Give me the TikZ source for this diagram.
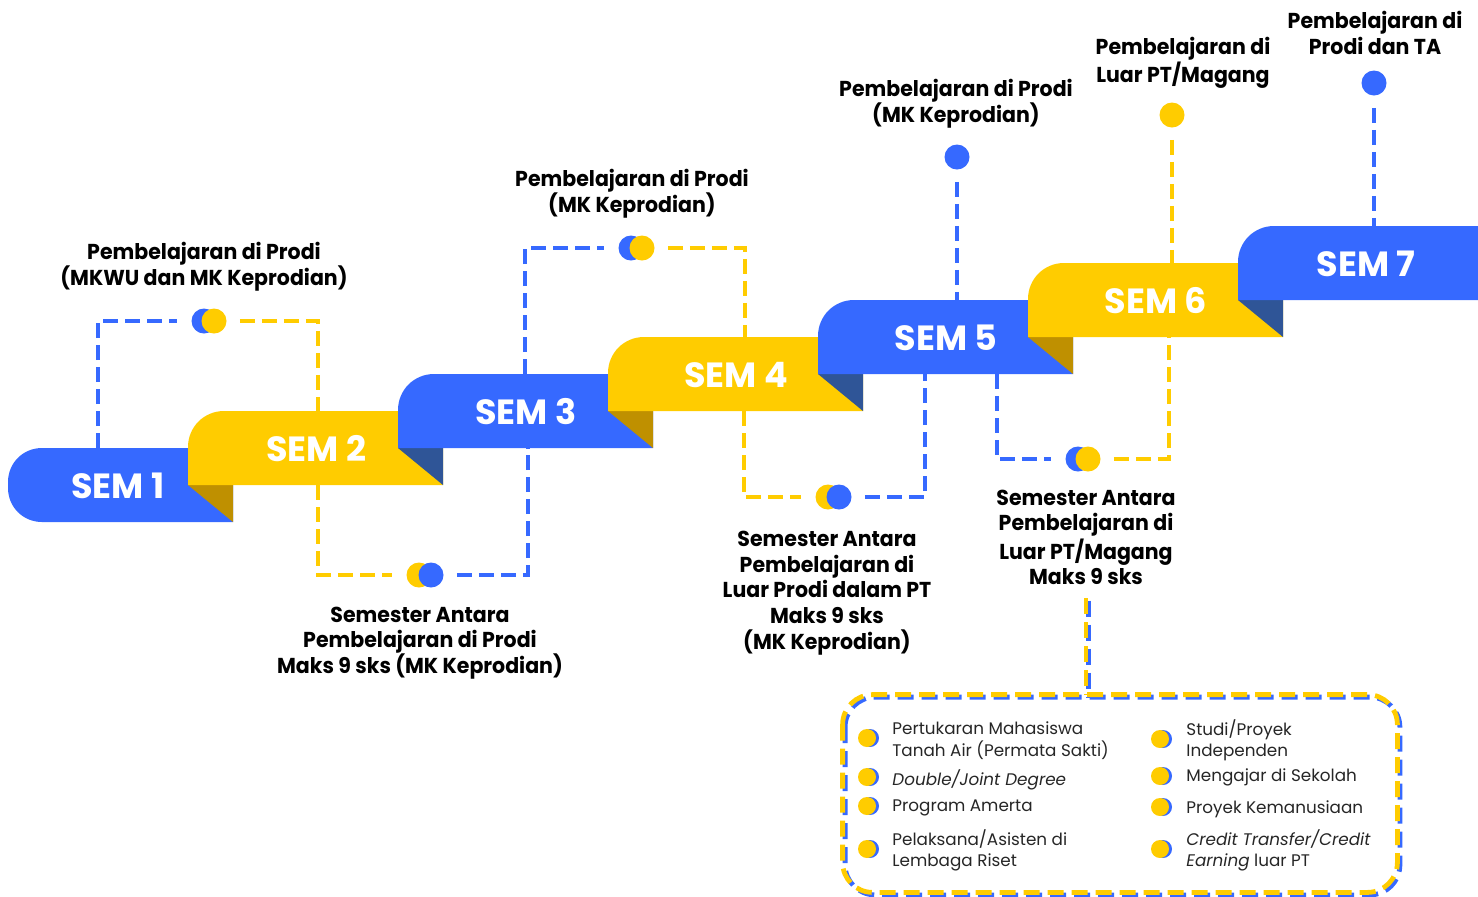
\documentclass[tikz,border=0pt]{standalone}
\usepackage{fontspec}
\setmainfont{Poppins}
\newfontfamily\lblfont[FakeStretch=0.95]{Poppins}
\newfontfamily\boxfont{Poppins}
\definecolor{sblue}{HTML}{3669FF}
\definecolor{syel}{HTML}{FFCC00}
\definecolor{dgold}{HTML}{BF9000}
\definecolor{dblue}{HTML}{2F5597}
\definecolor{txtgray}{HTML}{262626}
\newcommand{\semband}[5]{\fill[#5] (#1,#4) -- (#1,{#2+36}) .. controls (#1,{#2+16}) and ({#1+16},#2) .. ({#1+36},#2) -- (#3,#2) -- (#3,#4) -- cycle;}
\newcommand{\semfold}[4]{\fill[#4] (#1,#2) -- (#3,#2) -- (#3,{#2+37}) -- cycle;}
\tikzset{
  bline/.style={draw=sblue, line width=2.25pt, dash pattern=on 7.5pt off 3.5pt},
  yline/.style={draw=syel, line width=2.25pt, dash pattern=on 7.5pt off 3.5pt},
  bbox/.style={draw=sblue, line width=2.4pt, dash pattern=on 8pt off 4pt, rounded corners=15pt},
  ybox/.style={draw=syel, line width=2.4pt, dash pattern=on 8pt off 4pt, rounded corners=15pt},
  dotb/.style={circle, fill=sblue, minimum size=12.5pt, inner sep=0pt},
  doty/.style={circle, fill=syel, minimum size=12.5pt, inner sep=0pt},
  lbl/.style={font=\lblfont\fontsize{10.8}{12.8}\selectfont\bfseries, align=center, text=black, inner sep=0pt},
  semlbl/.style={font=\fontsize{17.5}{20}\selectfont\bfseries, text=white, inner sep=0pt},
  boxtxt/.style={font=\boxfont\fontsize{8.4}{10.75}\selectfont, align=left, anchor=west, inner sep=0pt, text=txtgray},
}
\begin{document}
\begin{tikzpicture}[x=0.5pt,y=-0.5pt]
\useasboundingbox (0,0) rectangle (1478,896);
% connection points on the bands
\coordinate (s1t) at (98,448);
\coordinate (s2t) at (318,411);
\coordinate (s2b) at (318,485);
\coordinate (s3b) at (528,448);
\coordinate (s3t) at (525,374);
\coordinate (s4t) at (745,337);
\coordinate (s4b) at (744,411);
\coordinate (s5b) at (925,374);
\coordinate (s5t) at (957,300);
\coordinate (s5c) at (997,374);
\coordinate (s6b) at (1169,337);
\coordinate (s6t) at (1172,263);
\coordinate (s7t) at (1374,226);
% dots
\node[dotb] (d1b) at (204,321) {};
\node[doty] (d1y) at (214,321) {};
\node[doty] (d2y) at (419,575) {};
\node[dotb] (d2b) at (431,575) {};
\node[dotb] (d3b) at (631,248) {};
\node[doty] (d3y) at (642,248) {};
\node[doty] (d4y) at (828,497) {};
\node[dotb] (d4b) at (839,497) {};
\node[dotb] (d5) at (957,157) {};
\node[dotb] (d6b) at (1078,459) {};
\node[doty] (d6y) at (1088,459) {};
\node[doty] (d7) at (1172,115) {};
\node[dotb] (d8) at (1374,83) {};
% connectors
\draw[bline, shorten >=7pt] (s1t) |- (d1b);
\draw[yline, shorten <=6.5pt] (d1y) -| (s2t);
\draw[yline, shorten >=7pt] (s2b) |- (d2y);
\draw[bline, shorten <=6.5pt] (d2b) -| (s3b);
\draw[bline, shorten >=7pt] (s3t) |- (d3b);
\draw[yline, shorten <=6.5pt] (d3y) -| (s4t);
\draw[yline, shorten >=7pt] (s4b) |- (d4y);
\draw[bline, shorten <=6.5pt] (d4b) -| (s5b);
\draw[bline, shorten <=6pt] (d5) -- (s5t);
\draw[bline, shorten >=7pt] (s5c) |- (d6b);
\draw[yline, shorten <=6.5pt] (d6y) -| (s6b);
\draw[yline, shorten <=6pt] (d7) -- (s6t);
\draw[bline, shorten <=6pt] (d8) -- (s7t);
% bands
\fill[sblue] (42,522) .. controls (23,522) and (8,507) .. (8,488) -- (8,482) .. controls (8,463) and (23,448) .. (42,448) -- (233,448) -- (233,522) -- cycle;
\semfold{188}{485}{233}{dgold}
\semband{188}{411}{443}{485}{syel}
\semfold{398}{448}{443}{dblue}
\semband{398}{374}{653}{448}{sblue}
\semfold{608}{411}{653}{dgold}
\semband{608}{337}{863}{411}{syel}
\semfold{818}{374}{863}{dblue}
\semband{818}{300}{1073}{374}{sblue}
\semfold{1028}{337}{1073}{dgold}
\semband{1028}{263}{1283}{337}{syel}
\semfold{1238}{300}{1283}{dblue}
\semband{1238}{226}{1478}{300}{sblue}
\node[semlbl] (sem1) at (118,486) {SEM 1};
\node[semlbl] (sem2) at (316,449) {SEM 2};
\node[semlbl] (sem3) at (526,412) {SEM 3};
\node[semlbl] (sem4) at (736,375) {SEM 4};
\node[semlbl] (sem5) at (946,338) {SEM 5};
\node[semlbl] (sem6) at (1156,301) {SEM 6};
\node[semlbl] (sem7) at (1366,264) {SEM 7};
% labels
\node[lbl] (l1) at (204,266.5) {Pembelajaran di Prodi\\(MKWU dan MK Keprodian)};
\node[lbl] (l2) at (420,643) {Semester Antara\\Pembelajaran di Prodi\\Maks 9 sks (MK Keprodian)};
\node[lbl] (l3) at (632,194) {Pembelajaran di Prodi\\(MK Keprodian)};
\node[lbl] (l4) at (827,593) {Semester Antara\\Pembelajaran di\\Luar Prodi dalam PT\\Maks 9 sks\\(MK Keprodian)};
\node[lbl] (l5) at (956,104) {Pembelajaran di Prodi\\(MK Keprodian)};
\node[lbl] (l6) at (1086,537.5) {Semester Antara\\Pembelajaran di\\Luar PT/Magang\\Maks 9 sks};
\node[lbl] (l7) at (1183,63) {Pembelajaran di\\Luar PT/Magang};
\node[lbl] (l8) at (1375,33) {Pembelajaran di\\Prodi dan TA};
% box
\node[minimum width=277pt, minimum height=98.5pt, inner sep=0pt] (box) at (1120,793.5) {};
\coordinate (c6) at (1086,598);
\draw[bline, line width=2.4pt, dash pattern=on 8pt off 4pt] ([xshift=1.25pt,yshift=-1.25pt]c6) -- ([xshift=1.25pt,yshift=-1.25pt]c6 |- box.north);
\draw[bbox] ([xshift=1.25pt,yshift=-1.25pt]box.north west) rectangle ([xshift=1.25pt,yshift=-1.25pt]box.south east);
\draw[yline, line width=2.4pt, dash pattern=on 8pt off 4pt] (c6) -- (c6 |- box.north);
\draw[ybox] (box.north west) rectangle (box.south east);
% bullets
\foreach \bx/\by in {867/738, 867/777, 867/806, 867/849, 1160/739, 1160/776, 1160/807, 1160/849}{
  \fill[sblue] ({\bx+3},\by) circle (4.5pt);
  \fill[syel] (\bx,\by) circle (4.5pt);
}
\node[boxtxt] (t1) at (892,740.5) {Pertukaran Mahasiswa\\Tanah Air (Permata Sakti)};
\node[boxtxt] (t2) at (892,780) {\textit{Double/Joint Degree}};
\node[boxtxt] (t3) at (892,808) {Program Amerta};
\node[boxtxt] (t4) at (892,850.5) {Pelaksana/Asisten di\\Lembaga Riset};
\node[boxtxt] (t5) at (1186,740.5) {Studi/Proyek\\Independen};
\node[boxtxt] (t6) at (1186,777) {Mengajar di Sekolah};
\node[boxtxt] (t7) at (1186,809) {Proyek Kemanusiaan};
\node[boxtxt] (t8) at (1186,850.5) {\textit{Credit Transfer/Credit}\\\textit{Earning} luar PT};
\end{tikzpicture}
\end{document}
